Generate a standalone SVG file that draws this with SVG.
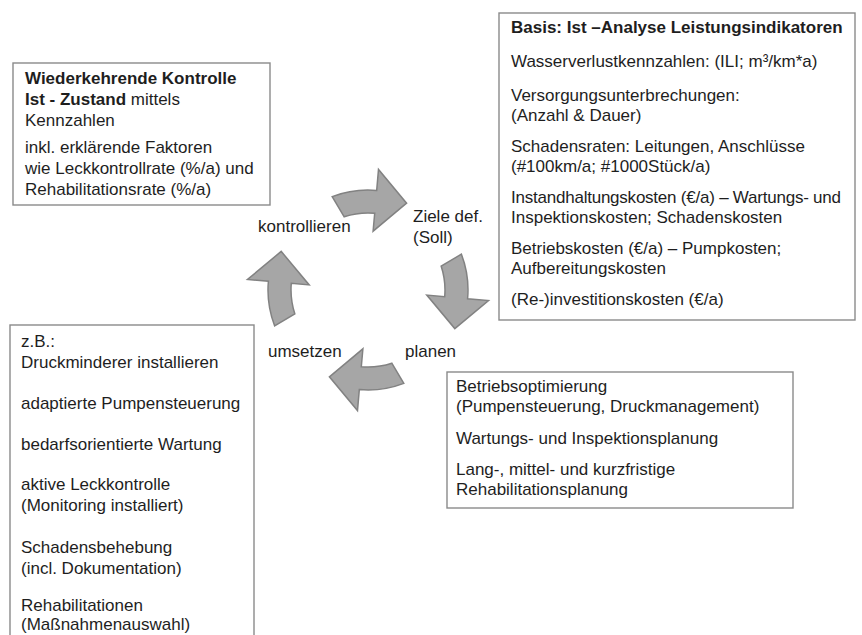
<svg xmlns="http://www.w3.org/2000/svg" xmlns:xlink="http://www.w3.org/1999/xlink" width="862" height="635" viewBox="0 0 862 635">
<style>
text{font-family:"Liberation Sans",Arial,sans-serif;font-size:17px;fill:#1e1e1e}
.b{font-weight:bold}
.box{fill:#fff;stroke:#8a8a8a;stroke-width:1.4}
.arr{fill:#a6a6a6;stroke:#828282;stroke-width:1.5;stroke-linejoin:miter}
</style>
<defs>
<path id="carrow" class="arr" d="M332.2,196.6 A100,100 0 0,1 376.7,190.4 L378.5,169.5 L406.6,203.2 L373.1,231.2 L374.7,213.3 A77,77 0 0,0 344.2,216.8 Z"/>
</defs>
<rect width="862" height="635" fill="#fff"/>
<g id="connectors">
<use xlink:href="#carrow" href="#carrow"/>
<use xlink:href="#carrow" href="#carrow" transform="rotate(90 368 290)"/>
<use xlink:href="#carrow" href="#carrow" transform="rotate(180 368 290)"/>
<use xlink:href="#carrow" href="#carrow" transform="rotate(270 368 290)"/>
</g>
<g id="box-kontrolle">
<rect class="box" x="13" y="63" width="257" height="142"/>
<text x="25" y="84" class="b">Wiederkehrende Kontrolle</text>
<text x="25" y="105"><tspan class="b">Ist - Zustand</tspan> mittels</text>
<text x="25" y="126">Kennzahlen</text>
<text x="25" y="153">inkl. erklärende Faktoren</text>
<text x="25" y="174">wie Leckkontrollrate (%/a) und</text>
<text x="25" y="195">Rehabilitationsrate (%/a)</text>
</g>
<g id="box-basis">
<rect class="box" x="499" y="13" width="356" height="307"/>
<text x="511" y="33" class="b">Basis: Ist –Analyse Leistungsindikatoren</text>
<text x="511" y="67">Wasserverlustkennzahlen: (ILI; m³/km*a)</text>
<text x="511" y="101">Versorgungsunterbrechungen:</text>
<text x="511" y="121">(Anzahl &amp; Dauer)</text>
<text x="511" y="152">Schadensraten: Leitungen, Anschlüsse</text>
<text x="511" y="172">(#100km/a; #1000Stück/a)</text>
<text x="511" y="203" textLength="330" lengthAdjust="spacing">Instandhaltungskosten (€/a) – Wartungs- und</text>
<text x="511" y="223">Inspektionskosten; Schadenskosten</text>
<text x="511" y="254">Betriebskosten (€/a) – Pumpkosten;</text>
<text x="511" y="274">Aufbereitungskosten</text>
<text x="511" y="305">(Re-)investitionskosten (€/a)</text>
</g>
<g id="box-planung">
<rect class="box" x="447" y="372" width="346" height="136"/>
<text x="456" y="392">Betriebsoptimierung</text>
<text x="456" y="412">(Pumpensteuerung, Druckmanagement)</text>
<text x="456" y="444">Wartungs- und Inspektionsplanung</text>
<text x="456" y="475">Lang-, mittel- und kurzfristige</text>
<text x="456" y="495">Rehabilitationsplanung</text>
</g>
<g id="box-massnahmen">
<rect class="box" x="10" y="325" width="244" height="330"/>
<text x="21" y="347">z.B.:</text>
<text x="21" y="368">Druckminderer installieren</text>
<text x="21" y="409">adaptierte Pumpensteuerung</text>
<text x="21" y="450">bedarfsorientierte Wartung</text>
<text x="21" y="490">aktive Leckkontrolle</text>
<text x="21" y="511">(Monitoring installiert)</text>
<text x="21" y="553">Schadensbehebung</text>
<text x="21" y="574">(incl. Dokumentation)</text>
<text x="21" y="611">Rehabilitationen</text>
<text x="21" y="630">(Maßnahmenauswahl)</text>
</g>
<g id="label-kontrollieren"><text x="258" y="232">kontrollieren</text></g>
<g id="label-ziele"><text x="413" y="222">Ziele def.</text><text x="413" y="243">(Soll)</text></g>
<g id="label-planen"><text x="405" y="357">planen</text></g>
<g id="label-umsetzen"><text x="268" y="357">umsetzen</text></g>
</svg>
